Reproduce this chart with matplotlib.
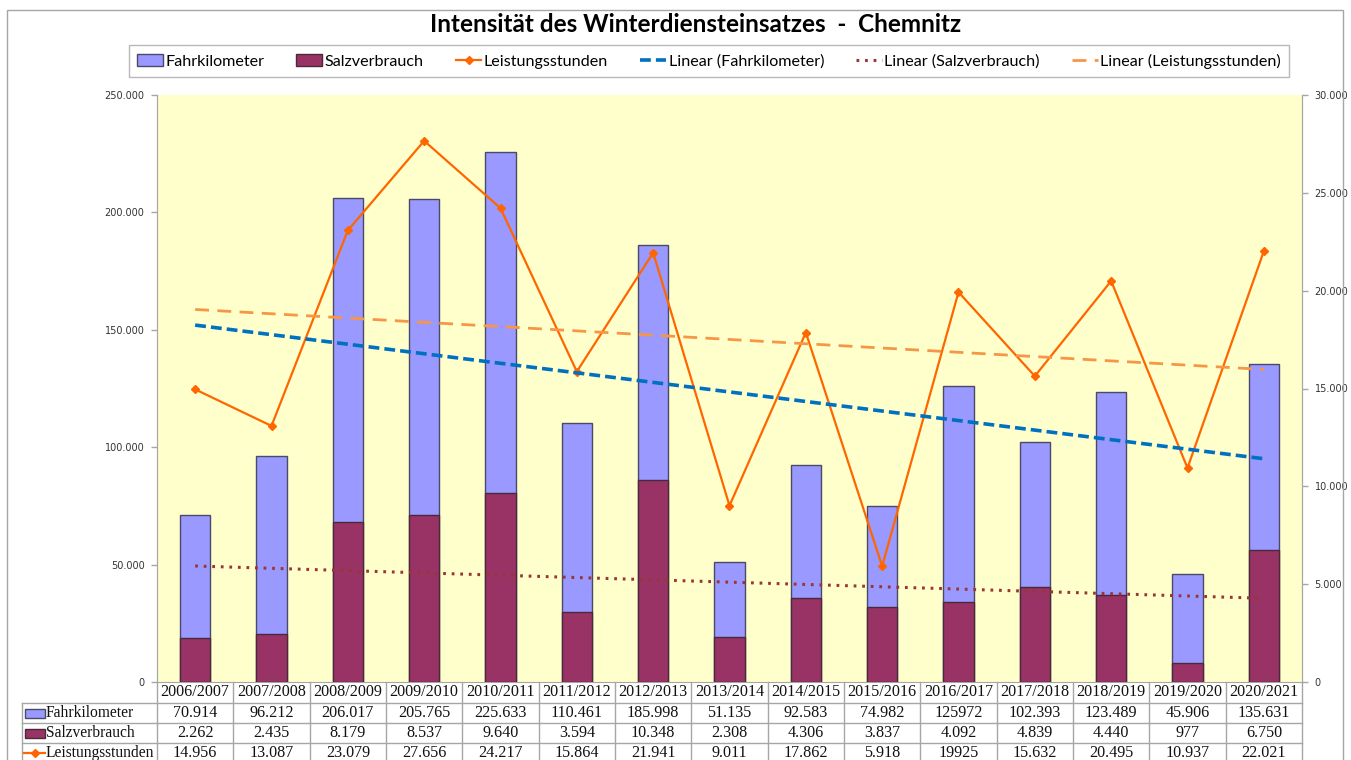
import numpy as np
import matplotlib
matplotlib.use('Agg')
import matplotlib.pyplot as plt
from matplotlib.patches import Rectangle, Patch
from matplotlib.lines import Line2D
from matplotlib.ticker import FuncFormatter

# data
years = ['2006/2007', '2007/2008', '2008/2009', '2009/2010', '2010/2011',
         '2011/2012', '2012/2013', '2013/2014', '2014/2015', '2015/2016',
         '2016/2017', '2017/2018', '2018/2019', '2019/2020', '2020/2021']
fahrkilometer = [70914, 96212, 206017, 205765, 225633, 110461, 185998, 51135,
                 92583, 74982, 125972, 102393, 123489, 45906, 135631]
salzverbrauch = [2262, 2435, 8179, 8537, 9640, 3594, 10348, 2308,
                 4306, 3837, 4092, 4839, 4440, 977, 6750]
leistungsstunden = [14956, 13087, 23079, 27656, 24217, 15864, 21941, 9011,
                    17862, 5918, 19925, 15632, 20495, 10937, 22021]

# table strings as printed in the original
fahr_labels = ['70.914', '96.212', '206.017', '205.765', '225.633', '110.461', '185.998',
               '51.135', '92.583', '74.982', '125972', '102.393', '123.489', '45.906', '135.631']
salz_labels = ['2.262', '2.435', '8.179', '8.537', '9.640', '3.594', '10.348', '2.308',
               '4.306', '3.837', '4.092', '4.839', '4.440', '977', '6.750']
leist_labels = ['14.956', '13.087', '23.079', '27.656', '24.217', '15.864', '21.941',
                '9.011', '17.862', '5.918', '19925', '15.632', '20.495', '10.937', '22.021']

C_FAHR = '#9999FF'
C_SALZ = '#993366'
C_LEIST = '#FF6600'
C_TR_FAHR = '#0070C0'
C_TR_SALZ = '#9B3535'
C_TR_LEIST = '#F79646'
GRID = '#A6A6A6'

W, H = 1351, 760
fig = plt.figure(figsize=(W / 100, H / 100), dpi=100)

# plot area
L, R, T, B = 157, 1302, 95, 682
ax = fig.add_axes([L / W, 1 - B / H, (R - L) / W, (B - T) / H])
ax2 = ax.twinx()
ax.set_facecolor('#FFFFCC')

x = np.arange(len(years))
ax.bar(x, fahrkilometer, width=0.4, color=C_FAHR, edgecolor='#4A4A66', lw=1, zorder=2)
ax2.bar(x, salzverbrauch, width=0.4, color=C_SALZ, edgecolor='#4A2A3A', lw=1, zorder=2)

ends = x[[0, -1]]
k, d = np.polyfit(x, salzverbrauch, 1)
ax2.plot(ends, k * ends + d, color=C_TR_SALZ, lw=2.2, ls=(0, (0.9, 1.9)), zorder=3)
ax2.plot(x, leistungsstunden, color=C_LEIST, lw=1.6, marker='D', ms=4.5, zorder=4)
k, d = np.polyfit(x, fahrkilometer, 1)
ax2.plot(ends, k * ends + d, color=C_TR_FAHR, lw=2.6, ls=(0, (3, 1.4)),
         transform=ax.transData, zorder=5)
k, d = np.polyfit(x, leistungsstunden, 1)
ax2.plot(ends, k * ends + d, color=C_TR_LEIST, lw=2.0, ls=(0, (5, 3)), zorder=5)

ax.set_xlim(-0.5, len(years) - 0.5)
ax.set_ylim(0, 250000)
ax2.set_ylim(0, 30000)
ax.set_yticks(np.arange(0, 250001, 50000))
ax2.set_yticks(np.arange(0, 30001, 5000))
fmt = FuncFormatter(lambda v, p: f"{int(v):,}".replace(',', '.'))
ax.yaxis.set_major_formatter(fmt)
ax2.yaxis.set_major_formatter(fmt)
ax.set_xticks([])
for a in (ax, ax2):
    a.tick_params(axis='y', labelsize=7, colors='#333333', length=4, width=1, pad=5)
    a.tick_params(axis='y', color=GRID)
    for s in a.spines.values():
        s.set_color(GRID)
    a.spines['top'].set_visible(False)
ax2.spines['bottom'].set_visible(False)

# title and legend
fig.text(0.515, 1 - 25 / H, 'Intensität des Winterdiensteinsatzes  -  Chemnitz',
         ha='center', va='center', fontsize=17.5, fontweight='bold', family='Lato')
handles = [
    Patch(facecolor=C_FAHR, edgecolor='#4A4A66', lw=1),
    Patch(facecolor=C_SALZ, edgecolor='#4A2A3A', lw=1),
    Line2D([], [], color=C_LEIST, lw=1.6, marker='D', ms=4.5),
    Line2D([], [], color=C_TR_FAHR, lw=2.6, ls=(0, (3, 1.4))),
    Line2D([], [], color=C_TR_SALZ, lw=2.2, ls=(0, (0.9, 1.9))),
    Line2D([], [], color=C_TR_LEIST, lw=2.0, ls=(0, (5, 3))),
]
labels = ['Fahrkilometer', 'Salzverbrauch', 'Leistungsstunden', 'Linear (Fahrkilometer)',
          'Linear (Salzverbrauch)', 'Linear (Leistungsstunden)']
leg = fig.legend(handles, labels, loc='center', bbox_to_anchor=(709 / W, 1 - 61 / H),
                 ncol=6, frameon=True, fancybox=False, edgecolor=GRID,
                 prop={'family': 'Lato', 'size': 11.6}, handlelength=1.6,
                 handletextpad=0.15, columnspacing=2.0, borderpad=0.5, borderaxespad=0)
leg.get_frame().set_linewidth(1)

# data table below the plot
tab = fig.add_axes([0, 0, 1, 1], facecolor='none')
tab.set_xlim(0, W)
tab.set_ylim(H, 0)
tab.axis('off')
cols = np.linspace(L, R, len(years) + 1)
rows = [B, 703, 723, 743, 763]
tkw = dict(family='Liberation Serif', fontsize=11.6, color='#111111', va='center')
for yy in rows[1:]:
    tab.plot([22, R], [yy, yy], color=GRID, lw=1)
for cx in cols:
    tab.plot([cx, cx], [B, rows[-1]], color=GRID, lw=1)
tab.plot([22, 22], [rows[1], rows[-1]], color=GRID, lw=1)
for i, yr in enumerate(years):
    cx = (cols[i] + cols[i + 1]) / 2
    tab.text(cx, (rows[0] + rows[1]) / 2, yr, ha='center', **tkw)
    tab.text(cx, (rows[1] + rows[2]) / 2, fahr_labels[i], ha='center', **tkw)
    tab.text(cx, (rows[2] + rows[3]) / 2, salz_labels[i], ha='center', **tkw)
    tab.text(cx, (rows[3] + rows[4]) / 2, leist_labels[i], ha='center', **tkw)
row_names = ['Fahrkilometer', 'Salzverbrauch', 'Leistungsstunden']
for j, name in enumerate(row_names):
    cy = (rows[j + 1] + rows[j + 2]) / 2
    tab.text(46, cy, name, ha='left', **dict(tkw, fontsize=11.2))
tab.add_patch(Rectangle((25, 709), 20, 9, facecolor=C_FAHR, edgecolor='#4A4A66', lw=1))
tab.add_patch(Rectangle((25, 729), 20, 9, facecolor=C_SALZ, edgecolor='#4A2A3A', lw=1))
tab.plot([24, 45], [753, 753], color=C_LEIST, lw=1.6)
tab.plot([34.5], [753], color=C_LEIST, marker='D', ms=4.5)

# outer chart border
tab.add_patch(Rectangle((7, 10), W - 15, H, facecolor='none', edgecolor=GRID, lw=1))

fig.savefig('out.png', dpi=100)
